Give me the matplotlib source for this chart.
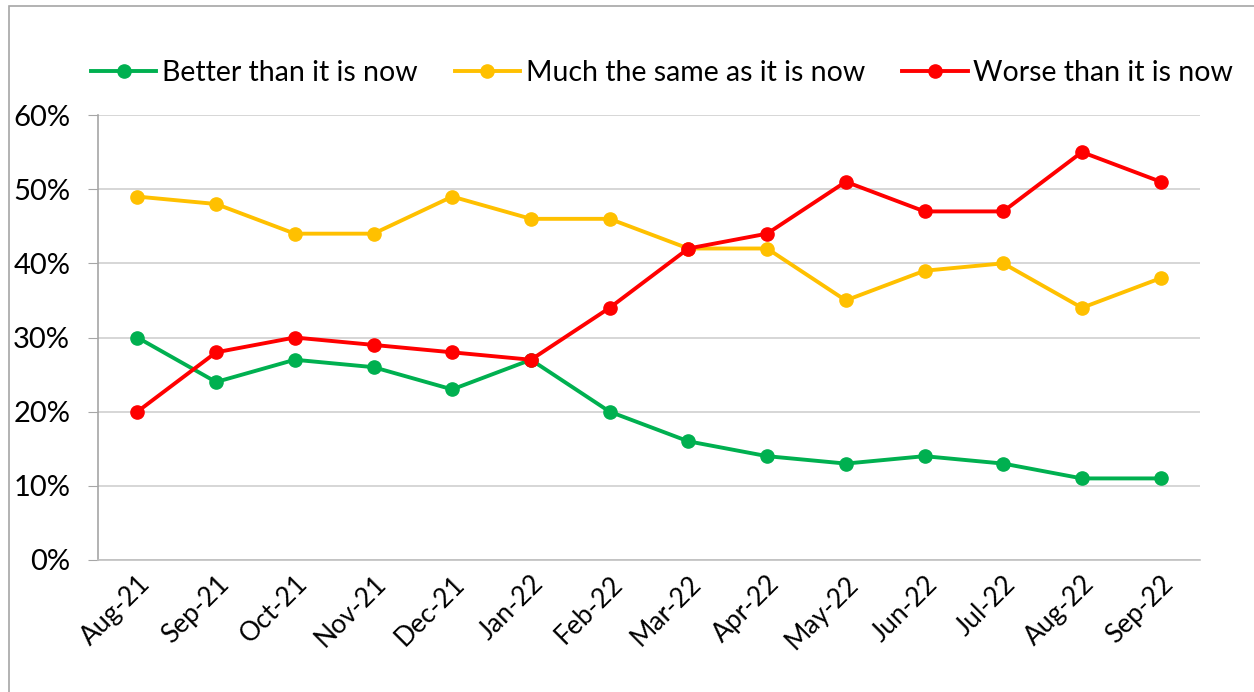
import matplotlib
matplotlib.use('Agg')
import matplotlib.pyplot as plt
from matplotlib.patches import Rectangle
from matplotlib.ticker import PercentFormatter

# data
months = ['Aug-21', 'Sep-21', 'Oct-21', 'Nov-21', 'Dec-21', 'Jan-22', 'Feb-22',
          'Mar-22', 'Apr-22', 'May-22', 'Jun-22', 'Jul-22', 'Aug-22', 'Sep-22']
better = [30, 24, 27, 26, 23, 27, 20, 16, 14, 13, 14, 13, 11, 11]
same = [49, 48, 44, 44, 49, 46, 46, 42, 42, 35, 39, 40, 34, 38]
worse = [20, 28, 30, 29, 28, 27, 34, 42, 44, 51, 47, 47, 55, 51]

plt.rcParams['font.family'] = ['Lato', 'DejaVu Sans']

fig = plt.figure(figsize=(12.54, 6.92), dpi=100)
ax = fig.add_axes([98 / 1254, 1 - 560 / 692, (1200 - 98) / 1254, (560 - 115) / 692])

# outer chart frame (cut off on right and bottom)
fig.patches.append(Rectangle((9 / 1254, -0.1), 1.2, 1 - 6 / 692 + 0.1,
                             transform=fig.transFigure, fill=False,
                             edgecolor='#a6a6a6', linewidth=1.2))

x = list(range(len(months)))
ax.plot(x, better, color='#00b050', marker='o', markersize=9.5, linewidth=2.8,
        label='Better than it is now')
ax.plot(x, same, color='#ffc000', marker='o', markersize=9.5, linewidth=2.8,
        label='Much the same as it is now')
ax.plot(x, worse, color='#ff0000', marker='o', markersize=9.5, linewidth=2.8,
        label='Worse than it is now')

ax.set_xlim(-0.5, len(months) - 0.5)
ax.set_ylim(0, 60)
ax.set_yticks(range(0, 61, 10))
ax.yaxis.set_major_formatter(PercentFormatter(decimals=0))
ax.set_xticks(x)
ax.set_xticklabels(months, rotation=45, ha='right', rotation_mode='anchor')

ax.grid(axis='y', color='#d0d0d0', linewidth=1.2)
ax.set_axisbelow(True)
for s in ['top', 'right']:
    ax.spines[s].set_visible(False)
ax.spines['left'].set_color('#a6a6a6')
ax.spines['bottom'].set_color('#c0c0c0')
ax.spines['left'].set_linewidth(1.2)
ax.spines['bottom'].set_linewidth(1.2)
ax.tick_params(axis='y', length=7, color='#a6a6a6', labelsize=21, pad=13)
ax.tick_params(axis='x', length=0, labelsize=19, pad=8)

# legend centred over the chart at about x=662px
leg_x = (662 - 98) / (1200 - 98)
ax.legend(loc='center', bbox_to_anchor=(leg_x, 1.095), ncol=3, frameon=False,
          fontsize=20.5, handlelength=2.3, handletextpad=0.2, columnspacing=1.3)

fig.savefig('out.png', dpi=100)
